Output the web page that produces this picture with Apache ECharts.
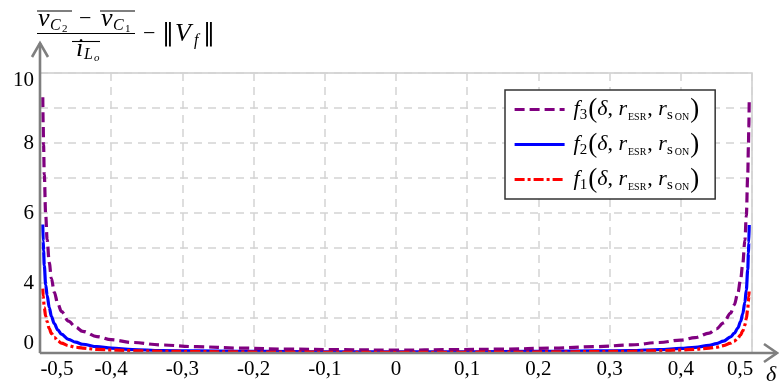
<!DOCTYPE html>
<html>
<head>
<meta charset="utf-8">
<script src="https://cdn.jsdelivr.net/npm/echarts@6/dist/echarts.min.js"></script>
<style>
  html, body { margin: 0; padding: 0; background: #fff; }
  #chart { width: 779px; height: 385px; }
</style>
</head>
<body>
<div id="chart"></div>
<script>
// Duty-ratio samples (denser towards the ends where the curves blow up)
const delta = [
  -0.4961, -0.4955, -0.495, -0.494, -0.492, -0.49, -0.487, -0.484, -0.48, -0.475, -0.47,
  -0.46, -0.45, -0.44, -0.42, -0.40, -0.37, -0.33, -0.28, -0.22, -0.15, -0.08,
  0,
  0.08, 0.15, 0.22, 0.28, 0.33, 0.37, 0.40, 0.42, 0.44, 0.45, 0.46,
  0.47, 0.475, 0.48, 0.484, 0.487, 0.49, 0.492, 0.494, 0.495, 0.4955, 0.4961
];

const f3Values = [
  9.31, 8.50, 7.95, 7.10, 5.95, 5.25, 4.58, 4.13, 3.74, 3.41, 3.19,
  2.91, 2.74, 2.62, 2.47, 2.38, 2.30, 2.23, 2.18, 2.14, 2.11, 2.095,
  2.08,
  2.095, 2.11, 2.14, 2.18, 2.23, 2.30, 2.37, 2.44, 2.57, 2.69, 2.86,
  3.14, 3.37, 3.70, 4.10, 4.55, 5.22, 5.92, 7.06, 7.90, 8.45, 9.22
];

const f2Values = [
  5.67, 5.20, 4.92, 4.50, 3.95, 3.65, 3.30, 3.05, 2.84, 2.66, 2.54,
  2.39, 2.31, 2.25, 2.18, 2.14, 2.10, 2.07, 2.06, 2.05, 2.04, 2.03,
  2.03,
  2.03, 2.04, 2.05, 2.06, 2.07, 2.10, 2.13, 2.16, 2.22, 2.27, 2.34,
  2.46, 2.56, 2.71, 2.90, 3.12, 3.45, 3.80, 4.38, 4.85, 5.15, 5.66
];

const f1Values = [
  3.84, 3.63, 3.50, 3.30, 3.05, 2.90, 2.70, 2.56, 2.45, 2.35, 2.28,
  2.21, 2.165, 2.14, 2.105, 2.085, 2.065, 2.05, 2.04, 2.03, 2.025, 2.02,
  2.015,
  2.02, 2.025, 2.03, 2.04, 2.05, 2.065, 2.085, 2.105, 2.14, 2.165, 2.21,
  2.28, 2.34, 2.42, 2.52, 2.63, 2.80, 2.98, 3.26, 3.48, 3.62, 3.83
];

const xTickLabels = ['-0,5', '-0,4', '-0,3', '-0,2', '-0,1', '0', '0,1', '0,2', '0,3', '0,4', '0,5'];
const yTickLabels = { 2: '0', 4: '4', 6: '6', 8: '8', 10: '10' };
const legendOrder = ['f3', 'f2', 'f1'];

const SERIF = '"Liberation Serif", "DejaVu Serif", serif';
const AXIS_GRAY = '#7f7f7f';

const chart = echarts.init(document.getElementById('chart'), null, { renderer: 'canvas' });

function curve(name, values, color, dash, z) {
  return {
    name: name,
    type: 'line',
    data: delta.map((d, i) => [d, values[i]]),
    symbol: 'none',
    showSymbol: false,
    smooth: 0.35,
    smoothMonotone: 'x',
    clip: false,
    z: z,
    lineStyle: { color: color, width: 3.2, type: dash },
    itemStyle: { color: color },
    emphasis: { disabled: true }
  };
}

// Legend entry: f_k(δ, r_ESR, r_sON)
function legendText(name) {
  const k = name.slice(1);
  return '{it|f}{sub|' + k + '}{par|(}{it|δ}{n|, }{it|r}{sc|ESR}{n|, }{it|r}{sub|s}{sc|ON}{par|)}';
}

const richLegend = {
  it:  { fontFamily: SERIF, fontStyle: 'italic', fontSize: 22, lineHeight: 26, color: '#000' },
  n:   { fontFamily: SERIF, fontSize: 22, lineHeight: 26, color: '#000' },
  par: { fontFamily: SERIF, fontSize: 27, lineHeight: 26, color: '#000' },
  sub: { fontFamily: SERIF, fontSize: 15, lineHeight: 15, verticalAlign: 'bottom', color: '#000', padding: [0, 1, 0, 0] },
  sc:  { fontFamily: SERIF, fontSize: 10, lineHeight: 10, verticalAlign: 'bottom', color: '#000', padding: [0, 1, 0, 1] }
};

const option = {
  animation: false,
  backgroundColor: '#fff',
  grid: {
    left: 40, right: 27, top: 73, bottom: 32,
    show: true, borderColor: '#cdcdcd', borderWidth: 1.5, backgroundColor: 'transparent'
  },
  legend: {
    data: legendOrder,
    orient: 'vertical',
    left: 505, top: 90,
    padding: [6, 16, 6, 8],
    itemGap: 8,
    itemWidth: 50,
    itemHeight: 14,
    backgroundColor: '#fff',
    borderColor: '#333',
    borderWidth: 1.5,
    borderRadius: 0,
    selectedMode: false,
    itemStyle: { color: 'rgba(0,0,0,0)', borderWidth: 0, opacity: 0 },
    lineStyle: { width: 3.2 },
    formatter: legendText,
    textStyle: { rich: richLegend, padding: [0, 0, 0, 4] }
  },
  xAxis: {
    type: 'value',
    min: -0.5, max: 0.5, interval: 0.1,
    axisLine: { show: false },
    axisTick: { show: false },
    splitLine: { show: true, lineStyle: { color: '#d4d4d4', width: 1.5, type: [8, 6] } },
    axisLabel: {
      showMinLabel: true, showMaxLabel: true,
      margin: 6,
      color: '#000', fontFamily: SERIF, fontSize: 21,
      formatter: function (v) {
        const idx = Math.round((v + 0.5) * 10);
        const t = xTickLabels[idx];
        if (idx === 0) return '{first|' + t + '}';
        if (idx === xTickLabels.length - 1) return '{last|' + t + '}';
        return t;
      },
      rich: {
        first: { fontFamily: SERIF, fontSize: 21, color: '#000', padding: [0, 0, 0, 34] },
        last:  { fontFamily: SERIF, fontSize: 21, color: '#000', padding: [0, 24, 0, 0] }
      }
    }
  },
  yAxis: {
    type: 'value',
    min: 2, max: 10, interval: 1,
    axisLine: { show: false },
    axisTick: { show: false },
    splitLine: { show: true, lineStyle: { color: '#d4d4d4', width: 1.5, type: [8, 6] } },
    axisLabel: {
      showMinLabel: true, showMaxLabel: true,
      margin: 6,
      color: '#000', fontFamily: SERIF, fontSize: 21,
      formatter: function (v) {
        const t = yTickLabels[Math.round(v)];
        if (t === undefined) return '';
        if (v === 10) return '{top|' + t + '}';
        if (v === 2) return '{bot|' + t + '}';
        return t;
      },
      rich: {
        top: { fontFamily: SERIF, fontSize: 21, color: '#000', padding: [14, 0, 0, 0] },
        bot: { fontFamily: SERIF, fontSize: 21, color: '#000', padding: [0, 0, 20, 0] }
      }
    }
  },
  series: [
    curve('f2', f2Values, '#0000ff', 'solid', 3),
    curve('f3', f3Values, '#800080', [10, 5], 4),
    curve('f1', f1Values, '#ff0000', [10, 3, 3, 3], 5)
  ]
};

chart.setOption(option);

// Axes with open arrow heads, the δ label and the y-axis quantity
const toPx = (p) => chart.convertToPixel({ xAxisIndex: 0, yAxisIndex: 0 }, p);
const origin = toPx([-0.5, 2]);
const xEnd = toPx([0.5, 2]);
const yEnd = toPx([-0.5, 10]);
const ox = origin[0], oy = origin[1];
const xTip = xEnd[0] + 25;
const yTip = yEnd[1] - 30;

const axisStroke = { stroke: AXIS_GRAY, lineWidth: 2.6, fill: null };

function txt(text, x, y, size, italic, family) {
  return {
    type: 'text', z: 100,
    style: {
      text: text, x: x, y: y,
      fill: '#000',
      font: (italic ? 'italic ' : '') + size + 'px ' + (family || SERIF),
      verticalAlign: 'middle', align: 'left'
    }
  };
}

function hline(x1, x2, y, w) {
  return { type: 'line', z: 100, shape: { x1: x1, y1: y, x2: x2, y2: y }, style: { stroke: '#000', lineWidth: w || 1.1 } };
}

chart.setOption({
  graphic: [
    { type: 'polyline', z: 90, shape: { points: [[ox, oy], [xTip, oy]] }, style: axisStroke },
    { type: 'polyline', z: 90, shape: { points: [[xTip - 13, oy - 9], [xTip, oy], [xTip - 13, oy + 9]] }, style: axisStroke },
    { type: 'polyline', z: 90, shape: { points: [[ox, oy], [ox, yTip]] }, style: axisStroke },
    { type: 'polyline', z: 90, shape: { points: [[ox - 8, yTip + 14], [ox, yTip], [ox + 8, yTip + 14]] }, style: axisStroke },

    txt('δ', 766, 375, 22, true),

    // numerator: v̄_C2 − v̄_C1
    hline(37, 72, 11),
    hline(100, 135, 11),
    txt('v', 38, 19, 26, true),
    txt('C', 50, 26, 16, true),
    txt('2', 62, 29, 11, false),
    txt('−', 79, 19, 22, false),
    txt('v', 101, 19, 26, true),
    txt('C', 113, 26, 16, true),
    txt('1', 125, 29, 11, false),
    // fraction bar
    hline(37, 135, 33.5),
    // denominator: ī_Lo
    hline(72, 100, 41.5),
    txt('i', 76, 49, 26, true),
    txt('L', 84, 55, 16, true),
    txt('o', 94, 58, 11, true),
    // − ‖V_f‖
    txt('−', 143, 34, 22, false),
    txt('‖', 162, 34, 24, false, '"DejaVu Serif", serif'),
    txt('V', 175, 34, 26, true),
    txt('f', 194, 41, 16, true),
    txt('‖', 203, 34, 24, false, '"DejaVu Serif", serif')
  ]
});
</script>
</body>
</html>
